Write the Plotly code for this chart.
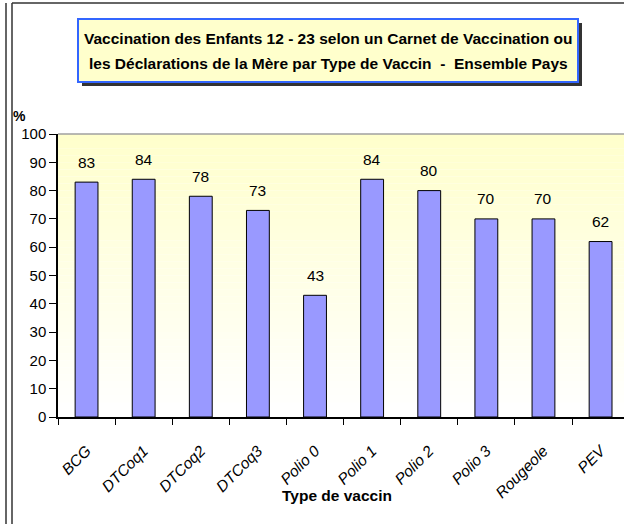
import plotly.graph_objects as go

categories = ["BCG", "DTCoq1", "DTCoq2", "DTCoq3", "Polio 0", "Polio 1", "Polio 2", "Polio 3", "Rougeole", "PEV"]
values = [83, 84, 78, 73, 43, 84, 80, 70, 70, 62]
y_ticks = [0, 10, 20, 30, 40, 50, 60, 70, 80, 90, 100]

title_line1 = "Vaccination des Enfants 12 - 23 selon un Carnet de Vaccination ou"
title_line2 = "les Déclarations de la Mère par Type de Vaccin  -  Ensemble Pays"

W, H = 624, 524
ML, MR, MT, MB = 58, 0, 134, 107
PW = W - ML - MR
PH = H - MT - MB


def px_x(px):
    return (px - ML) / PW


def px_y(py):
    return (H - MB - py) / PH


FONT = "Liberation Sans, Arial, sans-serif"

fig = go.Figure()
fig.add_trace(go.Bar(
    x=categories, y=values,
    marker=dict(color="#9999FF", line=dict(color="#000000", width=1)),
    width=0.4, hoverinfo="x+y",
))

shapes = []
# gradient background of the plot area
n = 40
for i in range(n):
    t = i / (n - 1)
    b = int(round(0xCC + (0xFF - 0xCC) * t))
    shapes.append(dict(type="rect", xref="x domain", yref="y domain",
                       x0=0, x1=1, y0=1 - (i + 1) / n, y1=1 - i / n,
                       fillcolor="#FFFF%02X" % b, line=dict(width=0), layer="below"))
# top border of plot area
shapes.append(dict(type="line", xref="paper", yref="paper", x0=0, x1=1, y0=1, y1=1,
                   line=dict(color="#A0A0A0", width=1.5)))
# outer frame lines
for xx in (6, 12):
    shapes.append(dict(type="line", xref="paper", yref="paper",
                       x0=px_x(xx), x1=px_x(xx), y0=px_y(3), y1=px_y(H + 5),
                       line=dict(color="#333333", width=1.5)))
shapes.append(dict(type="line", xref="paper", yref="paper",
                   x0=px_x(12), x1=px_x(W + 5), y0=px_y(3), y1=px_y(3),
                   line=dict(color="#333333", width=1.5)))
# title box shadow and box
shapes.append(dict(type="rect", xref="paper", yref="paper",
                   x0=px_x(82), x1=px_x(582), y0=px_y(23), y1=px_y(86),
                   fillcolor="#333333", line=dict(width=0)))
shapes.append(dict(type="rect", xref="paper", yref="paper",
                   x0=px_x(78), x1=px_x(578), y0=px_y(19), y1=px_y(82),
                   fillcolor="#FFFFCC", line=dict(color="#3366FF", width=2)))

annotations = []
annotations.append(dict(text="<b>" + title_line1 + "</b>", xref="paper", yref="paper",
                        x=px_x(328), y=px_y(38), xanchor="center", yanchor="middle",
                        showarrow=False, font=dict(family=FONT, size=15.5, color="#000000")))
annotations.append(dict(text="<b>" + title_line2 + "</b>", xref="paper", yref="paper",
                        x=px_x(328), y=px_y(63), xanchor="center", yanchor="middle",
                        showarrow=False, font=dict(family=FONT, size=15.5, color="#000000")))
annotations.append(dict(text="<b>%</b>", xref="paper", yref="paper",
                        x=px_x(19), y=px_y(116), xanchor="center", yanchor="middle",
                        showarrow=False, font=dict(family=FONT, size=14, color="#000000")))
annotations.append(dict(text="<b>Type de vaccin</b>", xref="paper", yref="paper",
                        x=px_x(337), y=px_y(495), xanchor="center", yanchor="middle",
                        showarrow=False, font=dict(family=FONT, size=15.5, color="#000000")))
for c, v in zip(categories, values):
    annotations.append(dict(text=str(v), x=c, y=v, xref="x", yref="y",
                            yanchor="middle", yshift=20, showarrow=False,
                            font=dict(family=FONT, size=15.5, color="#000000")))

fig.update_layout(
    width=W, height=H,
    margin=dict(l=ML, r=MR, t=MT, b=MB, pad=0),
    paper_bgcolor="#FFFFFF", plot_bgcolor="#FFFFFF",
    showlegend=False,
    shapes=shapes, annotations=annotations,
    font=dict(family=FONT, size=14, color="#000000"),
    xaxis=dict(type="category", range=[-0.5, 9.41], tickson="boundaries",
               ticks="outside", ticklen=6, tickcolor="#000000", tickwidth=1,
               showline=True, linecolor="#000000", linewidth=1.5, showgrid=False,
               tickangle=-45, ticklabelstandoff=17,
               tickfont=dict(family=FONT, size=15.5, style="italic", color="#000000"),
               zeroline=False, fixedrange=True),
    yaxis=dict(range=[0, 100], tickvals=y_ticks, ticks="outside", ticklen=7,
               tickcolor="#000000", tickwidth=1, showline=True, linecolor="#000000",
               linewidth=1.5, showgrid=False, zeroline=False,
               tickfont=dict(family=FONT, size=15, color="#000000"), fixedrange=True),
)

fig.write_html("out.html", config={"displayModeBar": False},
               post_script="document.body.style.margin='0';document.body.style.overflow='hidden';")
